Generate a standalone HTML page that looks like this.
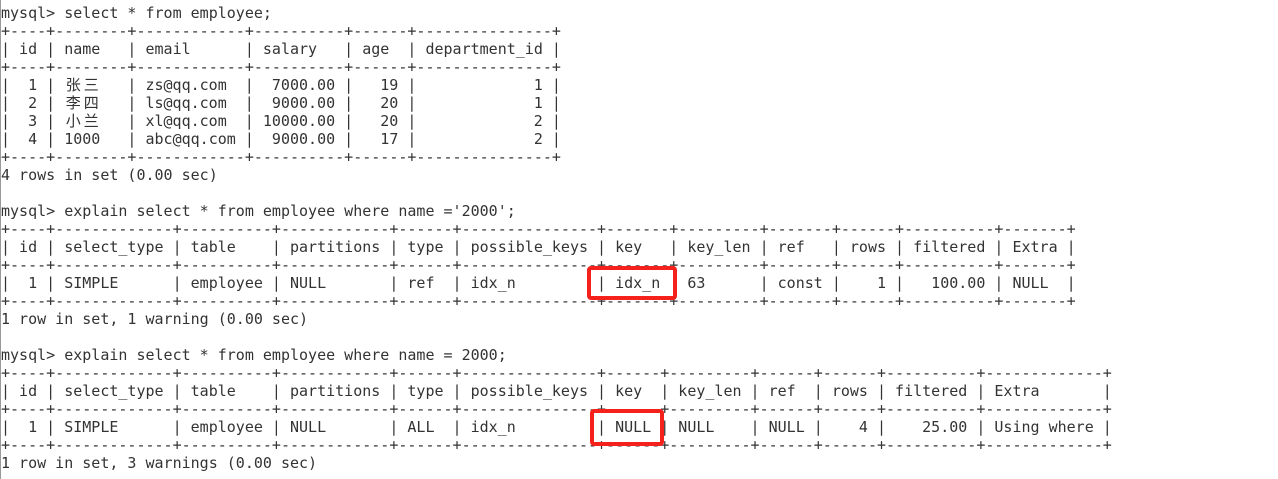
<!DOCTYPE html>
<html><head><meta charset="utf-8"><style>
html,body{margin:0;padding:0;background:#fff;width:1278px;height:479px;overflow:hidden;position:relative}
pre{position:absolute;left:1px;top:4px;margin:0;font-family:"DejaVu Sans Mono","Liberation Mono","Noto Sans CJK SC",monospace;font-size:15px;line-height:18px;color:#333}
.c{display:inline-block;width:18.06px;text-align:center;font-family:"Noto Sans CJK SC","WenQuanYi Zen Hei",sans-serif;line-height:18px;vertical-align:top}
.edge{position:absolute;left:0;top:0;width:1px;height:479px;background:#999}
.box{position:absolute;border:4px solid #f5221b;border-radius:4px;box-sizing:border-box}
</style></head><body>
<div class="edge"></div>
<pre>mysql&gt; select * from employee;
+----+--------+------------+----------+------+---------------+
| id | name   | email      | salary   | age  | department_id |
+----+--------+------------+----------+------+---------------+
|  1 | <span class="c">张</span><span class="c">三</span>   | zs@qq.com  |  7000.00 |   19 |             1 |
|  2 | <span class="c">李</span><span class="c">四</span>   | ls@qq.com  |  9000.00 |   20 |             1 |
|  3 | <span class="c">小</span><span class="c">兰</span>   | xl@qq.com  | 10000.00 |   20 |             2 |
|  4 | 1000   | abc@qq.com |  9000.00 |   17 |             2 |
+----+--------+------------+----------+------+---------------+
4 rows in set (0.00 sec)

mysql&gt; explain select * from employee where name ='2000';
+----+-------------+----------+------------+------+---------------+-------+---------+-------+------+----------+-------+
| id | select_type | table    | partitions | type | possible_keys | key   | key_len | ref   | rows | filtered | Extra |
+----+-------------+----------+------------+------+---------------+-------+---------+-------+------+----------+-------+
|  1 | SIMPLE      | employee | NULL       | ref  | idx_n         | idx_n | 63      | const |    1 |   100.00 | NULL  |
+----+-------------+----------+------------+------+---------------+-------+---------+-------+------+----------+-------+
1 row in set, 1 warning (0.00 sec)

mysql&gt; explain select * from employee where name = 2000;
+----+-------------+----------+------------+------+---------------+------+---------+------+------+----------+-------------+
| id | select_type | table    | partitions | type | possible_keys | key  | key_len | ref  | rows | filtered | Extra       |
+----+-------------+----------+------------+------+---------------+------+---------+------+------+----------+-------------+
|  1 | SIMPLE      | employee | NULL       | ALL  | idx_n         | NULL | NULL    | NULL |    4 |    25.00 | Using where |
+----+-------------+----------+------------+------+---------------+------+---------+------+------+----------+-------------+
1 row in set, 3 warnings (0.00 sec)</pre>
<div class="box" style="left:587px;top:266px;width:90px;height:34px"></div>
<div class="box" style="left:590px;top:409px;width:74px;height:37px"></div>
</body></html>
